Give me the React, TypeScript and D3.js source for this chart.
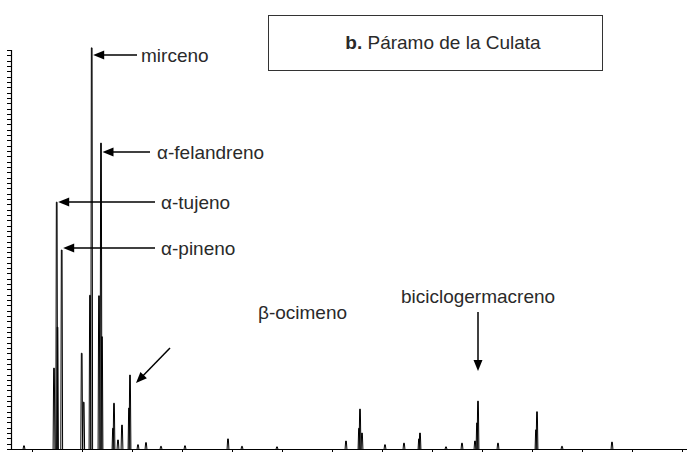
import React from "react";
import * as d3 from "d3";

// retention times (min) and intensities of chromatogram peaks
const peakTimes = [4.2, 7.2, 7.47, 7.55, 7.97, 9.97, 10.17, 10.8, 10.97, 11.7, 11.9, 12.0, 13.1, 13.2, 13.6, 14.0, 14.7, 14.8, 15.6, 16.4, 17.9, 20.3, 24.6, 26.0, 29.5, 36.4, 37.7, 37.8, 38.0, 40.3, 42.2, 43.7, 43.8, 46.4, 48.0, 49.3, 49.5, 49.6, 51.6, 55.4, 55.5, 58.0, 63.0];
const peakHeights = [0.6, 15.2, 46.4, 22.9, 37.4, 18.0, 8.8, 28.9, 75.4, 28.8, 57.5, 21.1, 3.9, 8.6, 1.7, 4.5, 7.7, 13.9, 0.8, 1.2, 0.5, 0.6, 1.9, 0.5, 0.4, 1.5, 3.9, 7.5, 3.0, 0.8, 1.1, 1.9, 3.0, 0.4, 1.1, 1.5, 4.9, 9.0, 1.1, 3.6, 7.0, 0.5, 1.3];

const xTicks = [5, 10, 15, 20, 25, 30, 35, 40, 45, 50, 55, 60, 65, 70];

const labels = ["mirceno", "α-felandreno", "α-tujeno", "α-pineno", "β-ocimeno", "biciclogermacreno"];
const labelPeakTimes = [10.97, 11.9, 7.47, 7.97, 14.8, 49.6];

const W = 687;
const H = 452;

export default function App() {
  const x = d3.scaleLinear().domain([2.9, 70.5]).range([11, 687]);
  const y = d3.scaleLinear().domain([0, 75]).range([449, 50]);
  const yTicks = y.ticks(80);
  const y0 = y(0);
  const font = "'Liberation Sans', Arial, Helvetica, sans-serif";
  const txt = "#2a2a2a";
  const fs = 19;

  const peaks = peakTimes.map((t, i) => {
    const h = peakHeights[i];
    const p = d3.path();
    p.moveTo(x(t - 0.09), y0);
    p.lineTo(x(t - 0.035), y(h));
    p.lineTo(x(t + 0.035), y(h));
    p.lineTo(x(t + 0.09), y0);
    return <path key={i} d={p.toString()} fill="none" stroke="#000" strokeWidth={1} />;
  });

  const arrowHead = (tipX: number, tipY: number, angle: number, key: string) => {
    const len = 11, half = 4.5;
    const bx = tipX - Math.cos(angle) * len;
    const by = tipY - Math.sin(angle) * len;
    const px = -Math.sin(angle) * half;
    const py = Math.cos(angle) * half;
    return <path key={key} d={`M${tipX},${tipY}L${bx + px},${by + py}L${bx - px},${by - py}Z`} fill="#000" />;
  };

  const hArrows = [
    { i: 0, ay: 55, x2: 137, tx: 141 },
    { i: 1, ay: 152, x2: 150, tx: 157 },
    { i: 2, ay: 202, x2: 155, tx: 161 },
    { i: 3, ay: 248, x2: 155, tx: 161 },
  ];

  return (
    <svg width={W} height={H} style={{ position: "absolute", left: 0, top: 0, background: "#fff" }}>
      <rect x={0} y={0} width={W} height={H} fill="#fff" />
      <rect x={268.5} y={15.5} width={334} height={55} fill="#fff" stroke="#333" strokeWidth={1} />
      <text x={443} y={49} textAnchor="middle" fontFamily={font} fontSize={fs} fill={txt}>
        <tspan fontWeight="bold">b.</tspan> Páramo de la Culata
      </text>

      <line x1={11.5} x2={11.5} y1={y(75)} y2={y0} stroke="#000" strokeWidth={1.2} />
      {yTicks.map((v) => (
        <line key={v} x1={7} x2={11.5} y1={Math.round(y(v)) + 0.5} y2={Math.round(y(v)) + 0.5} stroke="#000" strokeWidth={1} />
      ))}
      <line x1={11} x2={W} y1={y0 + 0.5} y2={y0 + 0.5} stroke="#000" strokeWidth={1.2} />
      {xTicks.map((t) => (
        <line key={t} x1={Math.round(x(t)) + 0.5} x2={Math.round(x(t)) + 0.5} y1={y0} y2={y0 + 3} stroke="#000" strokeWidth={1} />
      ))}

      {peaks}

      {hArrows.map((a) => {
        const tip = x(labelPeakTimes[a.i]) + 1.5;
        return (
          <g key={a.i}>
            <line x1={tip + 8} x2={a.x2} y1={a.ay} y2={a.ay} stroke="#000" strokeWidth={1.5} />
            {arrowHead(tip, a.ay, Math.PI, "h" + a.i)}
            <text x={a.tx} y={a.ay + 7} fontFamily={font} fontSize={fs} fill={txt}>{labels[a.i]}</text>
          </g>
        );
      })}

      {(() => {
        const tipX = x(labelPeakTimes[4]) + 6;
        const tipY = 383;
        const sx = 170, sy = 348;
        const ang = Math.atan2(tipY - sy, tipX - sx);
        return (
          <g>
            <line x1={sx} y1={sy} x2={tipX - Math.cos(ang) * 8} y2={tipY - Math.sin(ang) * 8} stroke="#000" strokeWidth={1.5} />
            {arrowHead(tipX, tipY, ang, "b")}
            <text x={258} y={319} fontFamily={font} fontSize={fs} fill={txt}>{labels[4]}</text>
          </g>
        );
      })()}

      {(() => {
        const ax = x(labelPeakTimes[5]);
        return (
          <g>
            <line x1={ax} x2={ax} y1={312} y2={362} stroke="#000" strokeWidth={1.5} />
            {arrowHead(ax, 371, Math.PI / 2, "g")}
            <text x={ax} y={303} textAnchor="middle" fontFamily={font} fontSize={fs} fill={txt}>{labels[5]}</text>
          </g>
        );
      })()}
    </svg>
  );
}
